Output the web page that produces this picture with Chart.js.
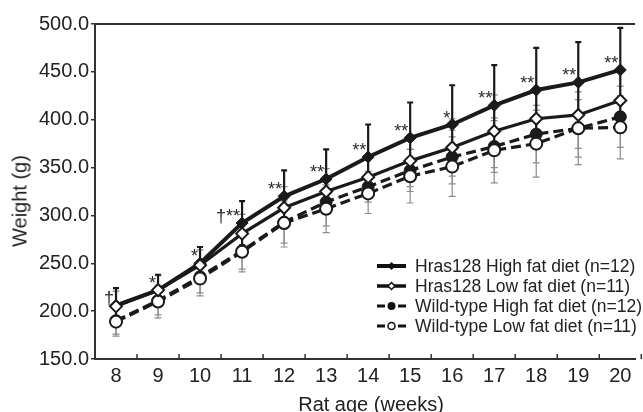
<!DOCTYPE html>
<html><head><meta charset="utf-8">
<script src="https://cdn.jsdelivr.net/npm/chart.js@4.4.0/dist/chart.umd.min.js"></script>
<style>
html,body{margin:0;padding:0;background:#fff;overflow:hidden}
#wrap{position:relative;width:643px;height:412px;overflow:hidden;font-family:"Liberation Sans",Arial,sans-serif;color:#222}
#box{position:absolute;left:0;top:0;width:643px;height:412px}
.ytitle{position:absolute;left:20px;top:201px;transform:translate(-50%,-50%) rotate(-90deg);font-size:20px;white-space:nowrap}
.xtitle{position:absolute;left:371px;top:404px;transform:translate(-50%,-50%);font-size:20px;white-space:nowrap}
.legend{position:absolute;left:377px;top:256px;font-size:17.5px;line-height:20px}
.legend .row{display:flex;align-items:center;height:20px;white-space:nowrap}
.legend svg{width:29px;height:20px;margin-right:9px;flex:none}
</style></head>
<body>
<div id="wrap">
  <div id="box"><canvas id="c"></canvas></div>
  <div class="ytitle">Weight (g)</div>
  <div class="xtitle">Rat age (weeks)</div>
  <div class="legend">
    <div class="row"><svg viewBox="0 0 29 20"><line x1="0" y1="10" x2="29" y2="10" stroke="#111" stroke-width="4"/><polygon points="14.5,6 18.5,10 14.5,14 10.5,10" fill="#111"/></svg><span>Hras128 High fat diet (n=12)</span></div>
    <div class="row"><svg viewBox="0 0 29 20"><line x1="0" y1="10" x2="29" y2="10" stroke="#111" stroke-width="3.5"/><polygon points="14.5,6.5 18,10 14.5,13.5 11,10" fill="#fff" stroke="#111" stroke-width="1.5"/></svg><span>Hras128 Low fat diet (n=11)</span></div>
    <div class="row"><svg viewBox="0 0 29 20"><line x1="0" y1="10" x2="8" y2="10" stroke="#111" stroke-width="3"/><line x1="21" y1="10" x2="29" y2="10" stroke="#111" stroke-width="3"/><circle cx="14.5" cy="10" r="4" fill="#111"/></svg><span>Wild-type High fat diet (n=12)</span></div>
    <div class="row"><svg viewBox="0 0 29 20"><line x1="0" y1="10" x2="8" y2="10" stroke="#111" stroke-width="3"/><line x1="21" y1="10" x2="29" y2="10" stroke="#111" stroke-width="3"/><circle cx="14.5" cy="10" r="3.5" fill="#fff" stroke="#111" stroke-width="1.5"/></svg><span>Wild-type Low fat diet (n=11)</span></div>
  </div>
</div>
<script>
// ---- data ----
const weeks = [8, 9, 10, 11, 12, 13, 14, 15, 16, 17, 18, 19, 20];
const hrasHigh   = [206, 222, 250, 292, 320, 338, 361, 381, 395, 415, 431, 439, 452];
const hrasHighSD = [18, 16, 17, 23, 27, 31, 34, 37, 41, 42, 44, 42, 44];
const hrasLow    = [205, 222, 248, 281, 308, 325, 340, 357, 371, 388, 401, 405, 420];
const hrasLowSD  = [16, 15, 16, 20, 22, 24, 22, 27, 30, 38, 32, 35, 34];
const wtHigh     = [190, 211, 236, 263, 293, 314, 330, 347, 361, 372, 385, 391, 403];
const wtHighSD   = [14, 15, 17, 19, 22, 25, 16, 22, 28, 27, 30, 30, 32];
const wtLow      = [189, 210, 234, 262, 292, 307, 323, 341, 351, 368, 375, 391, 392];
const wtLowSD    = [15, 17, 18, 21, 25, 25, 21, 28, 31, 34, 35, 38, 33];
const yTicks     = [150, 200, 250, 300, 350, 400, 450, 500];
const marks      = ["†", "*", "*", "†**", "**", "**", "**", "**", "*", "**", "**", "**", "**"];

const INK = '#1a1a1a';
const pts = arr => weeks.map((w, i) => ({x: w, y: arr[i]}));

const deco = {
  id: 'deco',
  beforeDatasetsDraw(chart) {
    const ctx = chart.ctx, xs = chart.scales.x, ys = chart.scales.y;
    const bars = [
      {v: wtLow, sd: wtLowSD, c: '#8c8c8c', w: 1.2, cap: 3.5},
      {v: wtHigh, sd: wtHighSD, c: '#8c8c8c', w: 1.2, cap: 3.5},
      {v: hrasLow, sd: hrasLowSD, c: '#8c8c8c', w: 1.2, cap: 3.5},
      {v: hrasHigh, sd: hrasHighSD, c: INK, w: 2.2, cap: 3}
    ];
    ctx.save();
    bars.forEach(b => {
      ctx.strokeStyle = b.c; ctx.lineWidth = b.w;
      weeks.forEach((wk, i) => {
        const x = xs.getPixelForValue(wk);
        const y1 = ys.getPixelForValue(b.v[i] + b.sd[i]);
        const y2 = ys.getPixelForValue(b.v[i] - b.sd[i]);
        ctx.beginPath();
        ctx.moveTo(x, y1); ctx.lineTo(x, y2);
        ctx.moveTo(x - b.cap, y1); ctx.lineTo(x + b.cap, y1);
        ctx.moveTo(x - b.cap, y2); ctx.lineTo(x + b.cap, y2);
        ctx.stroke();
      });
    });
    ctx.restore();
  },
  afterDatasetsDraw(chart) {
    const ctx = chart.ctx, xs = chart.scales.x, ys = chart.scales.y;
    ctx.save();
    ctx.fillStyle = '#2a2a2a';
    ctx.font = '18px "Liberation Sans", Arial, sans-serif';
    ctx.textAlign = 'right';
    ctx.textBaseline = 'alphabetic';
    weeks.forEach((wk, i) => {
      const x = xs.getPixelForValue(wk) - 2;
      const y = ys.getPixelForValue(hrasHigh[i]) - 1;
      ctx.fillText(marks[i], x, y);
    });
    ctx.restore();
  },
  afterDraw(chart) {
    const ctx = chart.ctx, xs = chart.scales.x, a = chart.chartArea;
    ctx.save();
    ctx.strokeStyle = '#333';
    ctx.lineWidth = 2;
    ctx.beginPath();
    ctx.moveTo(a.left - 1, a.top); ctx.lineTo(a.right, a.top);
    ctx.stroke();
    ctx.lineWidth = 1.5;
    ctx.beginPath();
    weeks.forEach(wk => {
      const x = xs.getPixelForValue(wk + 0.5);
      ctx.moveTo(x, a.bottom); ctx.lineTo(x, a.bottom - 5);
    });
    ctx.stroke();
    ctx.restore();
  }
};

new Chart(document.getElementById('c'), {
  type: 'line',
  data: {
    datasets: [
      {label: 'Hras128 High fat diet (n=12)', data: pts(hrasHigh), borderColor: INK, borderWidth: 4,
       pointStyle: 'rectRot', pointRadius: 6, pointBackgroundColor: INK, pointBorderColor: INK, pointBorderWidth: 1, order: 2},
      {label: 'Hras128 Low fat diet (n=11)', data: pts(hrasLow), borderColor: INK, borderWidth: 3.2,
       pointStyle: 'rectRot', pointRadius: 6, pointBackgroundColor: '#fff', pointBorderColor: INK, pointBorderWidth: 2, order: 1},
      {label: 'Wild-type High fat diet (n=12)', data: pts(wtHigh), borderColor: INK, borderWidth: 3.2, borderDash: [10, 5],
       pointStyle: 'circle', pointRadius: 6, pointBackgroundColor: INK, pointBorderColor: INK, pointBorderWidth: 1, order: 4},
      {label: 'Wild-type Low fat diet (n=11)', data: pts(wtLow), borderColor: INK, borderWidth: 3.2, borderDash: [10, 5],
       pointStyle: 'circle', pointRadius: 6, pointBackgroundColor: '#fff', pointBorderColor: INK, pointBorderWidth: 2, order: 3}
    ]
  },
  options: {
    responsive: true, maintainAspectRatio: false, animation: false,
    layout: {padding: {top: 24, right: 0, left: 0, bottom: 0}},
    plugins: {legend: {display: false}, tooltip: {enabled: false}},
    scales: {
      x: {
        type: 'linear', min: 7.5, max: 20.35,
        afterBuildTicks: s => { s.ticks = weeks.map(v => ({value: v})); },
        afterFit: s => { s.height = 53; },
        ticks: {color: '#222', font: {family: '"Liberation Sans", Arial, sans-serif', size: 20}, padding: 5,
                maxRotation: 0, autoSkip: false, callback: v => String(v)},
        grid: {drawOnChartArea: false, drawTicks: false, tickLength: 0},
        border: {color: '#333', width: 2}
      },
      y: {
        min: 150, max: 500,
        afterBuildTicks: s => { s.ticks = yTicks.map(v => ({value: v})); },
        afterFit: s => { s.width = 95; },
        ticks: {color: '#222', font: {family: '"Liberation Sans", Arial, sans-serif', size: 20}, padding: 2,
                callback: v => Number(v).toFixed(1)},
        grid: {drawOnChartArea: false, tickLength: 4, color: '#333', lineWidth: 1.5},
        border: {color: '#333', width: 2}
      }
    }
  },
  plugins: [deco]
});
</script>
</body></html>
